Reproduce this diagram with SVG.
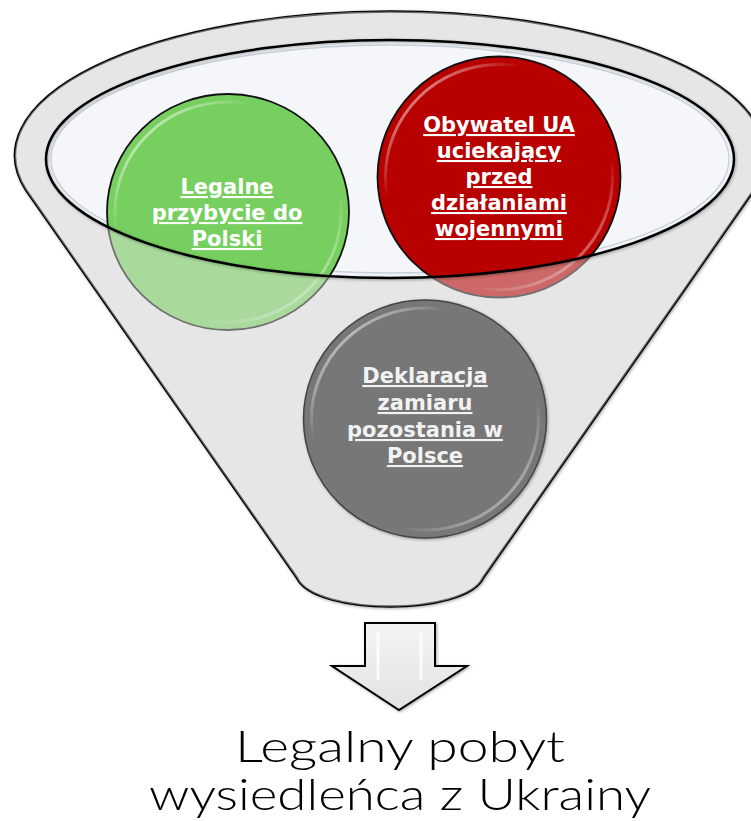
<svg xmlns="http://www.w3.org/2000/svg" width="751" height="821" viewBox="0 0 751 821">
  <style>
    .lbl { font-family: "DejaVu Sans", "Liberation Sans", sans-serif; font-weight: bold; font-size: 21px; text-anchor: middle; text-decoration: underline; }
    .w { fill: #fff; }
    .g { fill: #f2f2f2; }
    .res { font-family: Lato, "DejaVu Sans", sans-serif; font-weight: 300; font-size: 44px; text-anchor: middle; fill: #000; }
    .outline { fill: none; stroke: #000; stroke-width: 2.5; }
    .gloss { fill: none; stroke: url(#gloss); stroke-width: 3; }
  </style>
  <defs>
    <linearGradient id="gloss" x1="0" y1="0" x2="1" y2="1">
      <stop offset="0" stop-color="#fff" stop-opacity="0.9"/>
      <stop offset="0.3" stop-color="#fff" stop-opacity="0"/>
      <stop offset="0.7" stop-color="#fff" stop-opacity="0"/>
      <stop offset="1" stop-color="#fff" stop-opacity="0.7"/>
    </linearGradient>
    <linearGradient id="arrowFill" x1="0" y1="0" x2="0" y2="1">
      <stop offset="0" stop-color="#f4f4f4"/>
      <stop offset="1" stop-color="#e2e2e2"/>
    </linearGradient>
    <filter id="shadow" x="-5%" y="-5%" width="110%" height="110%">
      <feDropShadow dx="1" dy="1" stdDeviation="1.5" flood-color="#000" flood-opacity="0.35"/>
    </filter>
  </defs>

  <rect width="751" height="821" fill="#fff"/>

  <g id="node-funnel">
    <path d="M26,190 A375,144 0 1 1 754,190 L483,578 C465,616 315,616 297,578 Z" fill="#e6e6e6" stroke="#000" stroke-width="2.5" filter="url(#shadow)"/>
    <ellipse cx="390" cy="159" rx="344" ry="119" fill="#f4f6f9"/>
    <ellipse cx="390" cy="159" rx="339" ry="114" fill="none" stroke="#c9d1db" stroke-width="1.5"/>
  </g>

  <g id="node-legal-arrival">
    <ellipse cx="228" cy="212" rx="121" ry="118" fill="#77cf5f" stroke="#111" stroke-width="1.8"/>
    <ellipse cx="228" cy="212" rx="113" ry="110" class="gloss"/>
  </g>

  <g id="node-ua-citizen">
    <ellipse cx="499" cy="177" rx="121.5" ry="120.5" fill="#b80000" stroke="#111" stroke-width="1.8"/>
    <ellipse cx="499" cy="177" rx="113.5" ry="112.5" class="gloss"/>
  </g>

  <g id="funnel-front">
    <path d="M26,190 A375,144 0 1 1 754,190 L483,578 C465,616 315,616 297,578 Z M46,159 A344,119 0 1 0 734,159 A344,119 0 1 0 46,159 Z" fill="#e6e6e6" fill-opacity="0.45" fill-rule="evenodd"/>
    <ellipse cx="390" cy="159" rx="344" ry="119" class="outline" filter="url(#shadow)"/>
  </g>

  <g id="node-declaration">
    <ellipse cx="425" cy="419" rx="121.5" ry="119" fill="#777777" stroke="#444" stroke-width="1.5" filter="url(#shadow)"/>
    <ellipse cx="425" cy="419" rx="113.5" ry="111" class="gloss"/>
    <text class="lbl g" x="425" y="383">Deklaracja</text>
    <text class="lbl g" x="425" y="410">zamiaru</text>
    <text class="lbl g" x="425" y="437">pozostania w</text>
    <text class="lbl g" x="425" y="463">Polsce</text>
  </g>

  <g id="labels-top">
    <text class="lbl w" x="227" y="194">Legalne</text>
    <text class="lbl w" x="227" y="220">przybycie do</text>
    <text class="lbl w" x="227" y="246">Polski</text>
    <text class="lbl w" x="499" y="132">Obywatel UA</text>
    <text class="lbl w" x="499" y="158">uciekający</text>
    <text class="lbl w" x="499" y="184">przed</text>
    <text class="lbl w" x="499" y="210">działaniami</text>
    <text class="lbl w" x="499" y="236">wojennymi</text>
  </g>

  <g id="connectors">
    <path d="M365,623 L435,623 L435,666 L467,666 L399,710 L332,666 L365,666 Z" fill="url(#arrowFill)" stroke="#000" stroke-width="2" stroke-linejoin="miter" filter="url(#shadow)"/>
    <path d="M378,632 L378,680 M421,632 L421,680" stroke="#fff" stroke-width="3" stroke-opacity="0.8" fill="none"/>
  </g>

  <g id="node-result">
    <text class="res" x="400" y="762" textLength="330" lengthAdjust="spacingAndGlyphs">Legalny pobyt</text>
    <text class="res" x="400" y="810" textLength="502" lengthAdjust="spacingAndGlyphs">wysiedleńca z Ukrainy</text>
  </g>
</svg>
